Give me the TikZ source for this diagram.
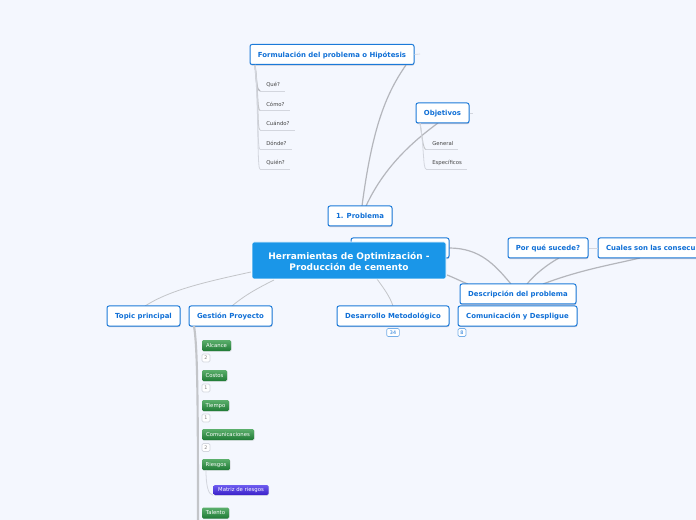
\documentclass[tikz,border=0pt]{standalone}
\usepackage{fontspec}
\setmainfont{DejaVu Sans}
\usetikzlibrary{shadows}
\definecolor{bgc}{HTML}{F4F7FE}
\definecolor{blu}{HTML}{1B7AD9}
\definecolor{txb}{HTML}{0F6FD6}
\definecolor{cen}{HTML}{1A96E8}
\definecolor{lnk}{HTML}{B4B6BC}
\definecolor{lnl}{HTML}{D3D6DE}
\definecolor{txd}{HTML}{444444}
\definecolor{gtop}{HTML}{5BAF6C}
\definecolor{gbot}{HTML}{1F7A35}
\definecolor{ptop}{HTML}{6D5CF0}
\definecolor{pbot}{HTML}{3A20C8}
\tikzset{
 x=0.75pt,y=-0.75pt,
 w/.style={minimum width=#1*0.75pt},
 h/.style={minimum height=#1*0.75pt},
 topicbox/.style={draw=blu,line width=0.75pt,rounded corners=1.5pt,fill=white,text=txb,inner sep=0pt,
   font=\bfseries\fontsize{5.2}{6}\selectfont,h=20,text height=5pt,text depth=1.2pt,
   general shadow={fill=blue!20!black!50,opacity=0.4,shadow xshift=0.3pt,shadow yshift=-0.8pt}},
 centerbox/.style={fill=cen,draw=white,line width=0.5pt,rounded corners=1.5pt,text=white,inner sep=0pt,align=center,
   font=\bfseries\fontsize{6.75}{8.4}\selectfont},
 greenbox/.style={top color=gtop,bottom color=gbot,draw=none,rounded corners=1pt,text=white,inner sep=0pt,
   font=\fontsize{4}{5}\selectfont,h=11,text height=3.4pt,text depth=0.8pt,
   general shadow={fill=black!30,opacity=0.4,shadow xshift=0.4pt,shadow yshift=-0.5pt}},
 purplebox/.style={top color=ptop,bottom color=pbot,draw=none,rounded corners=1pt,text=white,inner sep=0pt,
   font=\fontsize{4}{5}\selectfont,h=10,text height=3.4pt,text depth=0.8pt,
   general shadow={fill=black!30,opacity=0.4,shadow xshift=0.4pt,shadow yshift=-0.5pt}},
 smallitem/.style={anchor=south west,inner sep=0pt,text=txd,h=12,align=left,text width=#1*0.75pt,
   font=\fontsize{4}{5}\selectfont,execute at begin node={\hspace*{4.5pt}}},
 under/.style={lnl,line width=0.7pt},
 link/.style={lnk,line width=0.9pt},
 linklight/.style={lnk!80,line width=0.6pt},
 badge/.style={draw=lnl,fill=white,rounded corners=1pt,line width=0.5pt,text=gray,inner sep=0pt,minimum height=6pt,minimum width=6pt,
   font=\fontsize{3.6}{4}\selectfont},
 badgeb/.style={badge,draw=blu!60,text=txb},
}
\begin{document}
\begin{tikzpicture}
\useasboundingbox (0,0) rectangle (696,520);
\clip (0,0) rectangle (696,520);
\fill[bgc] (0,0) rectangle (696,520);

% connector ends
\coordinate (pa) at (362,206);
\coordinate (pb) at (366,206);
\coordinate (fc) at (406,65);
\coordinate (oc) at (438,123);
\coordinate (fb) at (255,65);
\coordinate (ob) at (420,123);
\coordinate (gb) at (194,326);
\coordinate (ge) at (198,520);
\coordinate (cl) at (251,272);
\coordinate (tc) at (145,306);
\coordinate (cg) at (274,280);
\coordinate (gc) at (232,306);
\coordinate (cd) at (377,279);
\coordinate (dc) at (393,306);
\coordinate (cr) at (447,275);
\coordinate (da) at (468,284);
\coordinate (hr) at (449,248);
\coordinate (db) at (511,284);
\coordinate (dp) at (527,284);
\coordinate (pq) at (559,258);
\coordinate (dq) at (543,284);
\coordinate (cq) at (640,258);
\coordinate (fs) at (420,54);
\coordinate (os) at (473,113);

% tree links
\draw[link] (pa) .. controls (372,130) and (385,95) .. (fc);
\draw[link] (pb) .. controls (385,165) and (415,140) .. (oc);
\draw[linklight] (cl) .. controls (205,282) and (170,290) .. (tc);
\draw[linklight] (cg) .. controls (258,288) and (245,295) .. (gc);
\draw[linklight] (cd) .. controls (385,290) and (390,297) .. (dc);
\draw[link] (cr) .. controls (455,278) and (460,281) .. (da);
\draw[link] (hr) .. controls (480,248) and (495,265) .. (db);
\draw[link] (dp) .. controls (535,274) and (548,264) .. (pq);
\draw[link] (dq) .. controls (580,270) and (610,265) .. (cq);

% hidden node behind the centre
\node[topicbox,w=98] (hid) at (400,248) {};

% main nodes
\node[topicbox,w=164] (form) at (332,54.5) {Formulación del problema o Hipótesis};
\node[topicbox,w=53] (obj) at (442.5,113) {Objetivos};
\node[topicbox,w=64] (prob) at (360,216) {1. Problema};
\node[topicbox,w=80] (por) at (548,248) {Por qué sucede?};
\node[topicbox,minimum width=97.5pt,align=left,text width=97.5pt,execute at begin node={\hspace*{6pt}}] (cual) at (663,248) {Cuales son las consecu};
\node[topicbox,w=119] (com) at (517.5,316) {Comunicación y Despligue};
\node[topicbox,w=116] (des) at (518,294) {Descripción del problema};
\node[topicbox,w=112] (met) at (393,316) {Desarrollo Metodológico};
\node[topicbox,w=83] (ges) at (230.5,316) {Gestión Proyecto};
\node[topicbox,w=73] (top) at (143.5,316) {Topic principal};
\node[centerbox,minimum width=145.5pt,minimum height=27.75pt] (cen) at (349,260.5) {\rule{0pt}{7pt}Herramientas de Optimización -\\Producción de cemento};

\draw[lnl,line width=0.5pt] (form.east) -- (fs);
\draw[lnl,line width=0.5pt] (obj.east) -- (os);
\draw[lnl,line width=0.7pt] (por.east) -- (cual.west);

% question items
\node[smallitem=24] (q1) at (260,91) {Qué?};
\node[smallitem=29] (q2) at (260,110.5) {Cómo?};
\node[smallitem=34] (q3) at (260,130) {Cuándo?};
\node[smallitem=31] (q4) at (260,149.5) {Dónde?};
\node[smallitem=29] (q5) at (260,169) {Quién?};
\node[smallitem=31] (o1) at (426,149.5) {General};
\node[smallitem=40] (o2) at (426,169) {Específicos};
\foreach \n in {q1,q2,q3,q4,q5,o1,o2}{\draw[under] (\n.south west) -- (\n.south east);}
\draw[lnk,line width=0.9pt] (fb) .. controls (256,80) and (257,91) .. (q1.south west);
\draw[lnk!80,line width=0.8pt] (fb) .. controls (258,85) and (257,110.5) .. (q2.south west);
\draw[lnk!70,line width=0.7pt] (fb) .. controls (259,95) and (257,130) .. (q3.south west);
\draw[lnl,line width=0.6pt] (fb) .. controls (259,105) and (257,149.5) .. (q4.south west);
\draw[lnl,line width=0.6pt] (fb) .. controls (259,115) and (257,169) .. (q5.south west);
\draw[lnk!80,line width=0.7pt] (ob) .. controls (422,135) and (423,149.5) .. (o1.south west);
\draw[lnl,line width=0.6pt] (ob) .. controls (424,145) and (423,169) .. (o2.south west);

% project branch
\draw[lnk!80,line width=1.6pt] (gb) .. controls (197,345) and (198,380) .. (ge);

\node[greenbox,w=29] (g1) at (216.5,345.5) {Alcance};
\node[greenbox,w=25] (g2) at (214.5,375.5) {Costos};
\node[greenbox,w=27] (g3) at (215.5,405.5) {Tiempo};
\node[greenbox,w=52] (g4) at (228,434.5) {Comunicaciones};
\node[greenbox,w=28] (g5) at (216,464.5) {Riesgos};
\node[purplebox,w=55] (g6) at (241,490) {Matriz de riesgos};
\node[greenbox,w=27] (g7) at (215.5,513) {Talento};
\coordinate (g5b) at (206,470);
\draw[lnl,line width=0.6pt] (g5b) .. controls (206,485) and (208,495) .. (g6.south west);

\node[badge] (b1) at (206,358) {2};
\node[badge] (b2) at (206,388) {1};
\node[badge] (b3) at (206,418) {1};
\node[badge] (b4) at (206,447.5) {2};
\node[badgeb,minimum width=9.5pt] (b5) at (393,332.5) {34};
\node[badgeb] (b6) at (462,332.5) {8};
\end{tikzpicture}
\end{document}
